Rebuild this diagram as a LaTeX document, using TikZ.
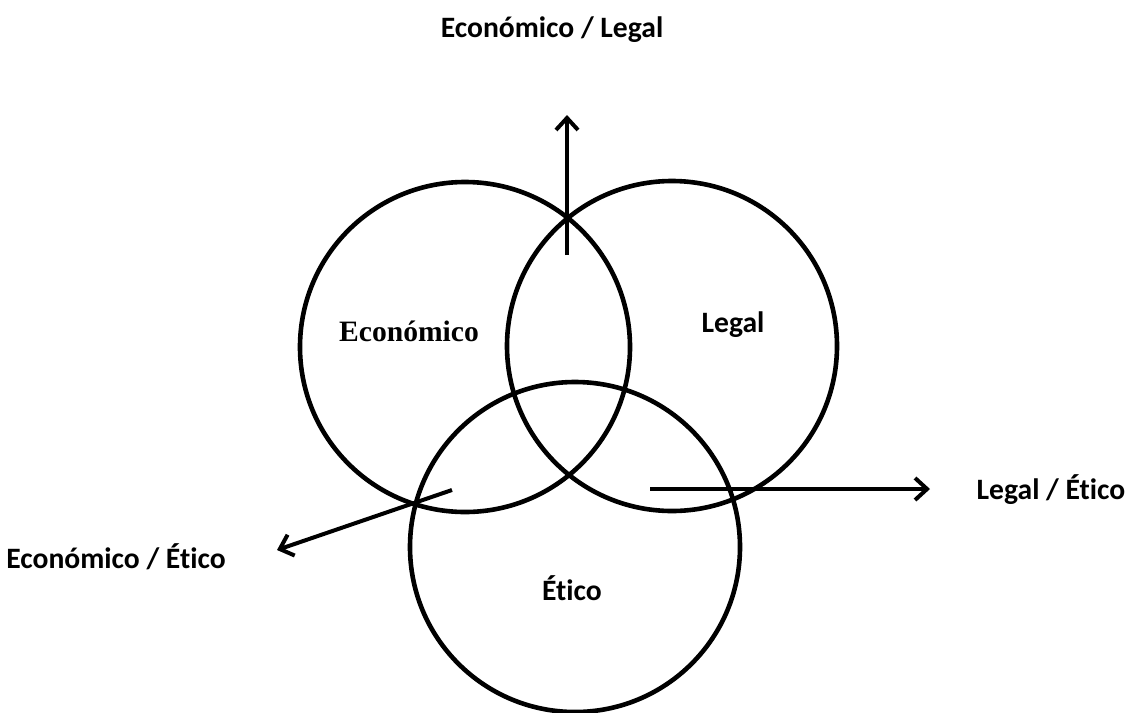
\documentclass[tikz,border=0pt]{standalone}
\usepackage{fontspec}
\setmainfont{Carlito}[Ligatures=NoCommon]
\newfontfamily\timesfont{Liberation Serif}
\usetikzlibrary{arrows.meta, positioning}

\begin{document}
\begin{tikzpicture}[x=0.5pt, y=-0.5pt,
                ring/.style={draw, circle, line width=2.3pt, minimum size=165pt, inner sep=0pt},
                label/.style={font=\fontsize{14.8}{17}\selectfont\bfseries},
                pointer/.style={-{Straight Barb[length=6pt, width=11pt]}, line width=2pt}]
                \useasboundingbox (0,0) rectangle (1126,713);
                % Circles
                \node[ring] (eco) at (465,347) {};
                \node[ring] (leg) at (672,346) {};
                \node[ring] (eti) at (575,547) {};

                % Circle labels
                \node[font=\fontsize{14.8}{17}\selectfont\timesfont\bfseries] (ecotxt) at (409,331) {Económico};
                \node[label] (legtxt) at (733,325) {Legal};
                \node[label] (etitxt) at (572,588) {Ético};

                % Overlap labels
                \node[label] (ecoleg) at (552,30) {Económico / Legal};
                \node[label] (legeti) at (1051,490) {Legal / Ético};
                \node[label] (ecoeti) at (116,557) {Económico / Ético};

                % Arrows
                \coordinate (up0) at (567,255);
                \coordinate (up1) at (567,115);
                \coordinate (rt0) at (650,489);
                \coordinate (rt1) at (930,489);
                \coordinate (lf0) at (452,490);
                \coordinate (lf1) at (277,550);
                \draw[pointer] (up0) -- (up1);
                \draw[pointer] (rt0) -- (rt1);
                \draw[pointer] (lf0) -- (lf1);
\end{tikzpicture}
\end{document}
